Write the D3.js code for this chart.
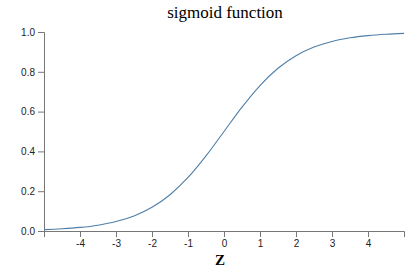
<!DOCTYPE html>
<html>
<head>
<meta charset="utf-8">
<script src="https://cdn.jsdelivr.net/npm/d3@7"></script>
<style>
  body { margin: 0; background: #fff; }
  .axis text { font-family: "Liberation Sans", Arial, sans-serif; font-size: 10px; fill: #222; }
  .axis path, .axis line { stroke: #777; }
</style>
</head>
<body>
<svg id="chart" width="418" height="274"></svg>
<script>
    // values
    const zValues = [-5, -4.5, -4, -3.5, -3, -2.5, -2, -1.5, -1, -0.5, 0, 0.5, 1, 1.5, 2, 2.5, 3, 3.5, 4, 4.5, 5];
    const sigValues = [0.0067, 0.011, 0.018, 0.0293, 0.0474, 0.0759, 0.1192, 0.1824, 0.2689, 0.3775, 0.5,
                       0.6225, 0.7311, 0.8176, 0.8808, 0.9241, 0.9526, 0.9707, 0.982, 0.989, 0.9933];
    const xTicks = [-4, -3, -2, -1, 0, 1, 2, 3, 4];
    const yTicks = [0, 0.2, 0.4, 0.6, 0.8, 1.0];

    const svg = d3.select("#chart");
    const margin = {top: 32, right: 14, bottom: 43, left: 44};
    const width = 418 - margin.left - margin.right;
    const height = 274 - margin.top - margin.bottom;

    const g = svg.append("g").attr("transform", `translate(${margin.left},${margin.top})`);

    const x = d3.scaleLinear().domain([-5, 5]).range([0, width]);
    const y = d3.scaleLinear().domain([0, 1]).range([height, 0]);

    // plain hyphen for negatives, like the original
    g.append("g").attr("class", "axis")
      .attr("transform", `translate(0,${height})`)
      .call(d3.axisBottom(x).tickValues(xTicks).tickFormat(d => String(d)));

    g.append("g").attr("class", "axis")
      .call(d3.axisLeft(y).tickValues(yTicks).tickFormat(d => d.toFixed(1)));

    const pts = zValues.map((z, i) => ({z: z, s: sigValues[i]}));
    const line = d3.line().x(d => x(d.z)).y(d => y(d.s)).curve(d3.curveMonotoneX);

    g.append("path").datum(pts)
      .attr("d", line)
      .attr("fill", "none")
      .attr("stroke", "#4f7fa8")
      .attr("stroke-width", 1.1);

    // title + x label
    svg.append("text")
      .attr("x", 225).attr("y", 18)
      .attr("text-anchor", "middle")
      .style("font-family", "'Liberation Serif', Georgia, serif")
      .style("font-size", "17px")
      .text("sigmoid function");

    svg.append("text")
      .attr("x", 220).attr("y", 265)
      .attr("text-anchor", "middle")
      .style("font-family", "'Liberation Serif', Georgia, serif")
      .style("font-size", "15px")
      .style("font-weight", "bold")
      .text("Z");
</script>
</body>
</html>
